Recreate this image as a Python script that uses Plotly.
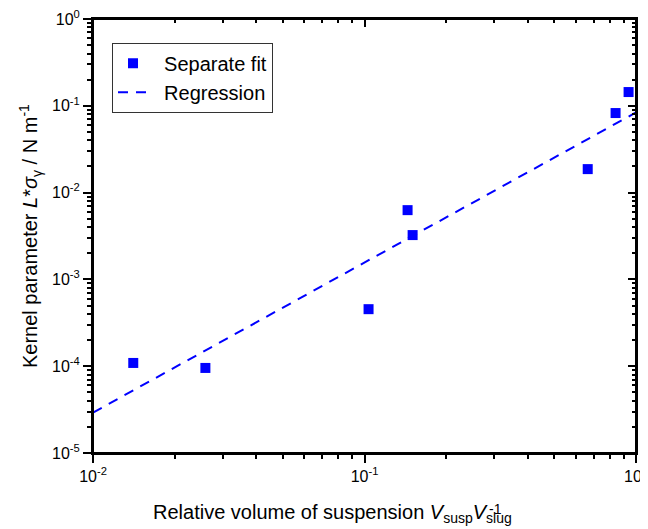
import plotly.graph_objects as go

# Data
x_fit = [0.01407, 0.02594, 0.1035, 0.1441, 0.1504, 0.664, 0.841, 0.939]
y_fit = [1.09e-4, 9.55e-5, 4.54e-4, 6.28e-3, 3.24e-3, 0.01865, 0.0825, 0.144]

x_reg = [0.01, 1.0]
y_reg = [2.92e-5, 0.0838]

x_tickvals = [0.01, 0.1, 1]
x_ticktext = ["10<sup>-2</sup>", "10<sup>-1</sup>", "10<sup>0</sup>"]
y_tickvals = [1e-5, 1e-4, 1e-3, 1e-2, 1e-1, 1]
y_ticktext = ["10<sup>-5</sup>", "10<sup>-4</sup>", "10<sup>-3</sup>",
              "10<sup>-2</sup>", "10<sup>-1</sup>", "10<sup>0</sup>"]

FONT = "Arial, Liberation Sans, sans-serif"
BLUE = "#0000FF"
NB = "\u00a0\u00a0"

fig = go.Figure()
fig.add_trace(go.Scatter(
    x=x_fit, y=y_fit, mode="markers", name=NB + "Separate fit",
    marker=dict(symbol="square", size=10, color=BLUE, line=dict(width=0)),
))
fig.add_trace(go.Scatter(
    x=x_reg, y=y_reg, mode="lines", name=NB + "Regression",
    line=dict(color=BLUE, width=2, dash="10px,8px"),
))
# invisible trace to hold the mirrored (inward-tick) axes
fig.add_trace(go.Scatter(x=x_reg, y=y_reg, xaxis="x2", yaxis="y2", mode="lines",
                         line=dict(width=0, color="rgba(0,0,0,0)"),
                         showlegend=False, hoverinfo="skip"))

xr = [-2, 0]
yr = [-5, 0]

common = dict(type="log", showgrid=False, zeroline=False, automargin=False,
              showline=True, linecolor="black", linewidth=2,
              tickcolor="black", tickwidth=1.5, ticklabeloverflow="allow")
minor_out = dict(ticks="outside", ticklen=4, dtick="D1",
                 tickcolor="black", tickwidth=1.5, showgrid=False)
minor_in = dict(ticks="inside", ticklen=4, dtick="D1",
                tickcolor="black", tickwidth=1.5, showgrid=False)

# page body adds an 8px offset, so the figure is 8px smaller and margins compensate
fig.update_layout(
    width=640, height=521,
    margin=dict(l=85, r=12, t=11, b=76),
    paper_bgcolor="white", plot_bgcolor="white",
    font=dict(family=FONT, size=16, color="black"),
    showlegend=True,
    legend=dict(x=0.035, y=0.945, xanchor="left", yanchor="top",
                bgcolor="white", bordercolor="#333333", borderwidth=1,
                font=dict(size=20, family=FONT), tracegroupgap=0,
                itemwidth=30),
    xaxis=dict(**common, range=xr, mirror=True, ticks="outside", ticklen=8,
               tickmode="array", tickvals=x_tickvals, ticktext=x_ticktext,
               minor=minor_out, tickfont=dict(size=16)),
    yaxis=dict(**common, range=yr, mirror=True, ticks="outside", ticklen=8,
               tickmode="array", tickvals=y_tickvals, ticktext=y_ticktext,
               minor=minor_out, tickfont=dict(size=16)),
    xaxis2=dict(**common, range=xr, overlaying="x", side="top", anchor="y",
                ticks="inside", ticklen=8, showticklabels=False,
                tickmode="array", tickvals=x_tickvals, minor=minor_in),
    yaxis2=dict(**common, range=yr, overlaying="y", side="right", anchor="x",
                ticks="inside", ticklen=8, showticklabels=False,
                tickmode="array", tickvals=y_tickvals, minor=minor_in),
)

# plot frame
fig.add_shape(type="rect", xref="paper", yref="paper", x0=0, x1=1, y0=0, y1=1,
              line=dict(color="black", width=2), layer="above")

fig.add_annotation(
    xref="paper", yref="paper", x=(151 - 93) / 543, y=-0.105, xanchor="left", yanchor="top",
    text="Relative volume of suspension <i>V</i><sub>susp</sub><i>V</i><sub>slug</sub>",
    showarrow=False, font=dict(size=20, family=FONT),
)
fig.add_annotation(
    xref="paper", yref="paper", x=(487 - 93) / 543, y=-0.105, xanchor="left", yanchor="top",
    text="<sup>-1</sup>", showarrow=False, font=dict(size=20, family=FONT),
)
fig.add_annotation(
    xref="paper", yref="paper", x=(30 - 93) / 543, y=0.5, xanchor="center", yanchor="middle",
    textangle=-90,
    text="Kernel parameter <i>L</i>*<i>σ</i><sub>γ</sub> / N m<sup>-1</sup>",
    showarrow=False, font=dict(size=20, family=FONT),
)

fig.write_html("out.html")
